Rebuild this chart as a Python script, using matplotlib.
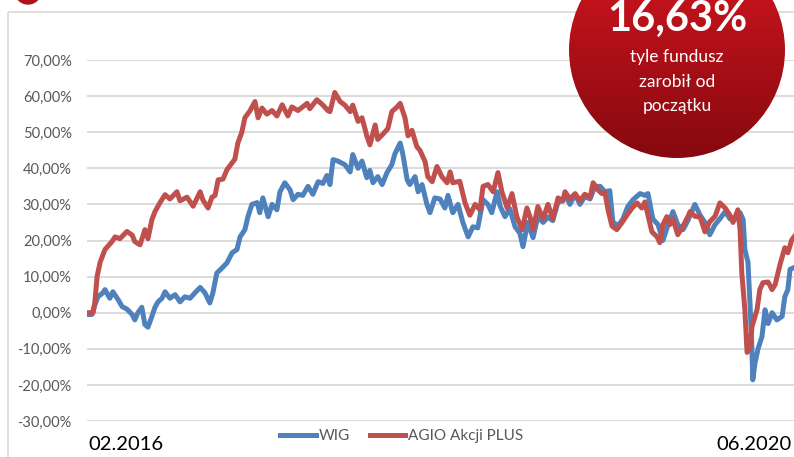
import matplotlib
matplotlib.use("Agg")
import matplotlib.pyplot as plt
import numpy as np
import pandas as pd
from matplotlib.patches import Circle, Rectangle
from matplotlib.ticker import FuncFormatter

plt.rcParams['font.family'] = ['Lato', 'DejaVu Sans']

# days since 01.02.2016 and cumulative return in %
agio_days = [0, 14, 18, 23, 30, 41, 57, 64, 75, 91, 103, 109, 121, 132, 139, 148, 155, 166, 178, 189,
             205, 212, 228, 242, 258, 264, 276, 285, 292, 299, 310, 319, 331, 337, 344, 353, 360, 372, 383, 390,
             399, 410, 422, 433, 445, 458, 467, 481, 502, 508, 524, 538, 549, 554, 565, 577, 588, 600, 606, 618,
             627, 638, 645, 657, 663, 675, 686, 695, 707, 714, 725, 732, 741, 752, 759, 771, 777, 787, 798, 809,
             821, 828, 834, 850, 862, 873, 885, 896, 903, 914, 926, 937, 946, 958, 969, 980, 992, 1003, 1010, 1017,
             1028, 1040, 1051, 1062, 1074, 1085, 1090, 1101, 1113, 1124, 1135, 1147, 1154, 1165, 1174, 1181, 1188, 1197, 1208, 1220,
             1231, 1243, 1254, 1265, 1272, 1279, 1288, 1300, 1306, 1313, 1322, 1329, 1336, 1347, 1359, 1370, 1375, 1386, 1398, 1409,
             1420, 1432, 1443, 1455, 1466, 1473, 1484, 1489, 1493, 1500, 1505, 1512, 1516, 1528, 1534, 1541, 1553, 1562, 1569, 1580,
             1591, 1598, 1607, 1612]
agio_vals = [0, 0, 3, 10, 14, 17.5, 19.7, 21, 20.5, 22.5, 21.5, 19.7, 18.8, 23, 20.5, 25.8, 28, 30.4, 32.7, 31.5,
             33.5, 31, 32, 29.5, 33.5, 31.3, 29, 32, 32.5, 36.8, 37, 39.6, 41.5, 42.5, 47, 50, 54, 56, 58.5, 54,
             56.7, 55, 56, 54.5, 57.6, 54.5, 57, 56, 58, 56.5, 59, 57.5, 56, 55.7, 61, 58.5, 57.5, 55.7, 57.5, 53,
             54, 49, 46.5, 52, 48, 49.5, 51, 55.7, 57, 58, 54, 49, 50.5, 46, 45, 41.8, 37.7, 36.3, 40.5, 37.7,
             36, 39, 36, 36.4, 30.4, 27, 30, 28.5, 35, 35.5, 33.5, 38.8, 33.5, 29, 33, 26.6, 23, 29, 26.6, 23,
             29.4, 26, 30, 26, 31.8, 31, 33.5, 31.5, 33, 31, 32.8, 32, 36, 34, 33, 33.3, 28.5, 24, 23, 25,
             27, 29, 30.4, 29, 30.7, 27, 22.4, 21, 19.4, 24.4, 26.6, 24.4, 26, 21.6, 24, 26.6, 28, 26.7, 26.5, 22.4,
             25.2, 26.7, 30.4, 29, 27, 25, 28.5, 23, 11, 0.8, -11, -9.5, -4, 1, 6.4, 8.3, 8.5, 6.4, 7.8, 13.3,
             18, 16.6, 20.2, 21]

wig_days = [0, 11, 18, 25, 36, 41, 52, 59, 71, 80, 91, 103, 109, 116, 125, 132, 139, 148, 155, 162,
            171, 178, 189, 201, 212, 223, 235, 246, 258, 269, 280, 287, 296, 308, 319, 331, 342, 349, 360, 367,
            376, 388, 394, 401, 413, 422, 433, 440, 451, 463, 470, 481, 492, 504, 515, 527, 538, 547, 554, 561,
            572, 588, 600, 606, 618, 627, 638, 645, 652, 663, 673, 684, 695, 702, 714, 720, 730, 736, 748, 755,
            764, 775, 782, 793, 805, 816, 823, 834, 846, 857, 869, 880, 891, 903, 914, 923, 935, 942, 953, 964,
            976, 987, 994, 1005, 1017, 1028, 1040, 1051, 1062, 1074, 1085, 1090, 1101, 1113, 1124, 1135, 1147, 1158, 1170, 1181,
            1192, 1199, 1211, 1222, 1233, 1245, 1261, 1272, 1279, 1290, 1302, 1313, 1325, 1336, 1347, 1359, 1370, 1375, 1386, 1398,
            1409, 1420, 1432, 1443, 1455, 1466, 1477, 1489, 1496, 1500, 1507, 1512, 1516, 1518, 1523, 1530, 1539, 1546, 1553, 1562,
            1573, 1585, 1591, 1598, 1603, 1612]
wig_vals = [-0.5, -0.5, 2.2, 4.4, 5.5, 6.4, 4, 5.8, 3.6, 1.7, 1, -0.5, -2, 0, 1.5, -3.3, -4, -1, 1.5, 3,
            4, 5.8, 4, 5, 3, 4.4, 4, 5.5, 7, 5.5, 2.7, 5.5, 11, 12.4, 13.8, 16.6, 17.5, 21, 23, 26.6,
            30, 30.5, 27.7, 31.8, 26.6, 30, 28.5, 33.5, 36, 34, 31.3, 32.8, 32.5, 35, 32.8, 36.3, 35.8, 38, 35.5, 42.4,
            42, 41, 39, 43.8, 40, 42, 37.4, 39.4, 36, 37.7, 35.5, 38.8, 41, 44, 47, 44, 36.8, 35.5, 37.7, 33.5,
            35.5, 30, 27.7, 31.8, 31.5, 29, 32.5, 27.7, 30, 25, 21, 23.8, 23.5, 31.3, 30, 27.7, 33.5, 29.5, 26.6, 28.8,
            23.8, 22, 18.3, 25, 20.8, 26.6, 25, 26.5, 25.5, 30.7, 31, 33, 30, 32.8, 30, 32.2, 31.5, 35, 35, 33.5,
            33.8, 25.2, 24, 26, 29.4, 31.3, 33, 32.5, 33, 26, 24.4, 20, 24.4, 28, 24.4, 23, 25.5, 27, 30, 27,
            25, 21.6, 24.4, 26, 28, 26, 25.8, 27.7, 25.8, 17.5, 14, 1.7, -10, -18.6, -14, -10, -6.6, 0.8, -3, 0,
            -2, -1, 4.4, 6.4, 12, 12.5]

start = pd.Timestamp('2016-02-01')
agio_dates = start + pd.to_timedelta(agio_days, unit='D')
wig_dates = start + pd.to_timedelta(wig_days, unit='D')

yticks = [-30, -20, -10, 0, 10, 20, 30, 40, 50, 60, 70]
series_names = ['WIG', 'AGIO Akcji PLUS']
blue = '#4f81bd'
red = '#c0504d'

W, H = 794, 457
fig = plt.figure(figsize=(W / 100, H / 100), dpi=100)

# background frame of the panel
bg = fig.add_axes([0, 0, 1, 1])
bg.set_xlim(0, W)
bg.set_ylim(H, 0)
bg.axis('off')
bg.add_patch(Rectangle((8, 12), 900, 600, fill=False, edgecolor='#d9d9d9', lw=1.2))
bg.add_patch(Circle((28, -9), 13, color='#b01018'))

ax = fig.add_axes([87 / W, 1 - 421 / H, 1 - 87 / W, (421 - 60) / H])
ax.plot(wig_dates, wig_vals, color=blue, lw=3.6, solid_joinstyle='round', label=series_names[0])
ax.plot(agio_dates, agio_vals, color=red, lw=3.6, solid_joinstyle='round', label=series_names[1])
ax.set_xlim(agio_dates[0], agio_dates[-1])
ax.set_ylim(-30, 70)
ax.set_yticks(yticks)
ax.yaxis.set_major_formatter(FuncFormatter(lambda v, p: f"{v:.2f}".replace('.', ',') + '%'))
ax.tick_params(axis='y', length=0, pad=11, labelsize=10.5, labelcolor='#595959')
ax.set_xticks([])
ax.grid(axis='y', color='#d9d9d9', lw=1.3)
ax.set_axisbelow(True)
for s in ax.spines.values():
    s.set_visible(False)
ax.patch.set_alpha(0)

leg = fig.legend(loc='center', bbox_to_anchor=(0.506, 1 - 436 / H), ncol=2, frameon=False,
                 fontsize=11, handlelength=2.3, handletextpad=0.2, columnspacing=1.3, labelcolor='#595959')
for l in leg.get_lines():
    l.set_linewidth(3.6)

fig.text(88 / W, 1 - 444 / H, '02.2016', fontsize=14.5, color='black', ha='left', va='center')
fig.text(792 / W, 1 - 444 / H, '06.2020', fontsize=14.5, color='black', ha='right', va='center')

# red bubble with gradient
ov = fig.add_axes([0, 0, 1, 1])
ov.set_xlim(0, W)
ov.set_ylim(H, 0)
ov.axis('off')
cx, cy, r = 677, 50, 108
circ = Circle((cx, cy), r, transform=ov.transData, facecolor='none', edgecolor='none')
ov.add_patch(circ)
grad = np.linspace(0, 1, 256).reshape(-1, 1)
top_c = np.array([0xd6, 0x16, 0x20]) / 255
bot_c = np.array([0x86, 0x09, 0x0f]) / 255
img = top_c[None, None, :] * (1 - grad[:, :, None]) + bot_c[None, None, :] * grad[:, :, None]
im = ov.imshow(img, extent=(cx - r, cx + r, cy + r, cy - r), aspect='auto', zorder=1)
im.set_clip_path(circ)
ov.set_xlim(0, W)
ov.set_ylim(H, 0)

ov.text(cx, 19, '16,63%', color='white', fontsize=30, fontweight='bold', ha='center', va='center', zorder=3)
ov.text(cx, 57, 'tyle fundusz', color='white', fontsize=12.5, ha='center', va='center', zorder=3)
ov.text(cx, 82, 'zarobił od', color='white', fontsize=12.5, ha='center', va='center', zorder=3)
ov.text(cx, 106, 'początku', color='white', fontsize=12.5, ha='center', va='center', zorder=3)

fig.savefig('out.png', dpi=100)
